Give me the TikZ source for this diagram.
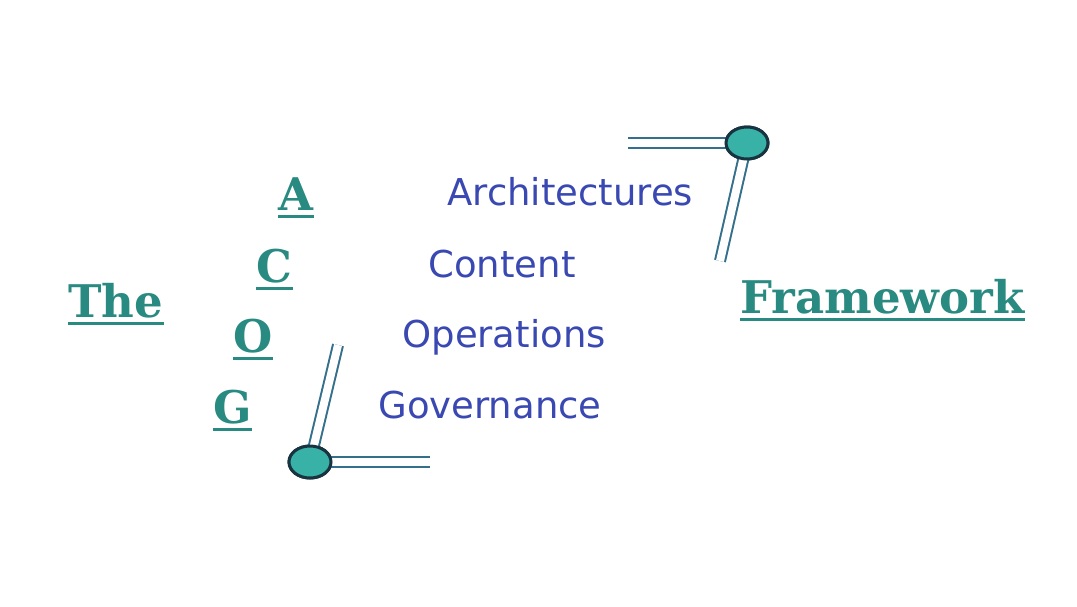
\documentclass[tikz,border=0pt]{standalone}
\usepackage{fontspec}
\usepackage{tikz}
\usetikzlibrary{positioning,shapes.geometric}
\newfontfamily\slabfont{DejaVu Serif}
\newfontfamily\wordfont{DejaVu Sans}
\definecolor{acoteal}{RGB}{40,138,128}
\definecolor{acoblue}{RGB}{58,72,178}
\definecolor{wire}{RGB}{52,112,140}
\definecolor{knob}{RGB}{56,178,166}
\definecolor{knobrim}{RGB}{24,52,64}
\tikzset{
  letter/.style={text=acoteal,font=\slabfont\bfseries\fontsize{22.5}{26}\selectfont,
                 anchor=base west,inner sep=0pt},
  term/.style={text=acoblue,font=\wordfont\fontsize{18.5}{21}\selectfont,
               anchor=base west,inner sep=0pt},
  ulline/.style={draw=acoteal,line width=1.1pt},
  dot/.style={ellipse,draw=knobrim,fill=knob,line width=1.5pt,
              minimum width=21pt,minimum height=16pt,inner sep=0pt},
  rail/.style={draw=wire,line width=1pt,double=white,double distance=4pt},
}

\begin{document}
\begin{tikzpicture}[x=0.5pt,y=-0.5pt]
  \useasboundingbox (0,0) rectangle (1077,606);

  % teal words and letters
  \node[letter] (the)  at (68,317)  {The};
  \node[letter] (la)   at (278,210) {A};
  \node[letter] (lc)   at (256,282) {C};
  \node[letter] (lo)   at (233,352) {O};
  \node[letter] (lg)   at (213,423) {G};
  \node[letter] (fw)   at (740,313) {Framework};
  \foreach \w in {the,la,lc,lo,lg,fw}
    \draw[ulline] ([yshift=-3.2pt]\w.base west) -- ([yshift=-3.2pt]\w.base east);

  % blue terms
  \node[term] (arch) at (447,205) {Architectures};
  \node[term] (cont) at (428,277) {Content};
  \node[term] (oper) at (402,347) {Operations};
  \node[term] (gov)  at (378,418) {Governance};

  % bracket at the top right
  \node[dot] (dtr) at (747,143) {};
  \coordinate (trh) at (628,143);
  \coordinate (trd) at (720,261);
  \draw[rail] (trh) -- (dtr.center);
  \draw[rail] (trd) -- (dtr.center);
  \node[dot] at (dtr) {};

  % bracket at the bottom left
  \node[dot] (dbl) at (310,462) {};
  \coordinate (blh) at (430,462);
  \coordinate (bld) at (338,345);
  \draw[rail] (blh) -- (dbl.center);
  \draw[rail] (bld) -- (dbl.center);
  \node[dot] at (dbl) {};
\end{tikzpicture}
\end{document}
